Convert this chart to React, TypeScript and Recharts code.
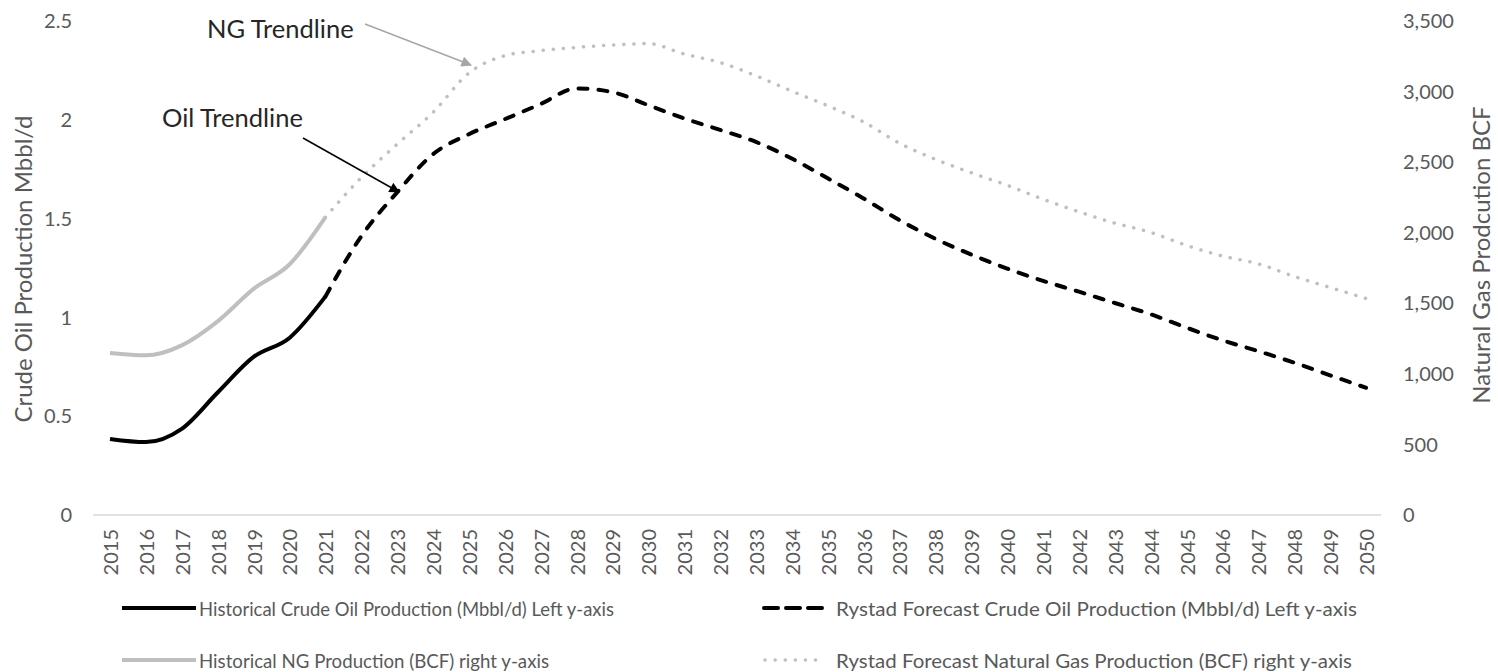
import { Legend, Line, LineChart, XAxis, YAxis } from 'recharts';

const years = [
  '2015', '2016', '2017', '2018', '2019', '2020', '2021', '2022', '2023', '2024', '2025', '2026',
  '2027', '2028', '2029', '2030', '2031', '2032', '2033', '2034', '2035', '2036', '2037', '2038',
  '2039', '2040', '2041', '2042', '2043', '2044', '2045', '2046', '2047', '2048', '2049', '2050',
];

// 2015–2021
const oilHistorical = [0.385, 0.369, 0.436, 0.62, 0.8, 0.896, 1.105];
// 2021–2050
const oilForecast = [
  1.105, 1.41, 1.633, 1.826, 1.927, 2.003, 2.08, 2.159, 2.14, 2.074, 2.007, 1.949, 1.888, 1.804, 1.704,
  1.602, 1.492, 1.398, 1.318, 1.247, 1.185, 1.13, 1.073, 1.016, 0.948, 0.884, 0.829, 0.771, 0.707, 0.644,
];
// 2015–2021
const ngHistorical = [1148, 1131, 1202, 1372, 1602, 1775, 2109];
// 2021–2050
const ngForecast = [
  2109, 2390, 2627, 2852, 3131, 3254, 3290, 3313, 3330, 3340, 3266, 3206, 3112, 3003, 2899, 2785, 2634,
  2520, 2425, 2336, 2237, 2148, 2068, 2002, 1910, 1835, 1779, 1690, 1612, 1534,
];

const leftTicks = [0, 0.5, 1, 1.5, 2, 2.5];
const rightTicks = [0, 500, 1000, 1500, 2000, 2500, 3000, 3500];

const FIRST_FORECAST = years.indexOf('2021');

const data = years.map((year, i) => ({
  year,
  oilHist: i <= FIRST_FORECAST ? oilHistorical[i] : null,
  oilFcst: i >= FIRST_FORECAST ? oilForecast[i - FIRST_FORECAST] : null,
  ngHist: i <= FIRST_FORECAST ? ngHistorical[i] : null,
  ngFcst: i >= FIRST_FORECAST ? ngForecast[i - FIRST_FORECAST] : null,
}));

const FONT = 'Lato, "Open Sans", sans-serif';
const GREY_TEXT = '#595959';
const NG_GREY = '#BFBFBF';

function YearTick({ x, y, payload }: any) {
  const ty = y + 14;
  return (
    <text
      x={x}
      y={ty}
      transform={`rotate(-90 ${x} ${ty})`}
      textAnchor="end"
      dominantBaseline="central"
      fill={GREY_TEXT}
      fontSize={20}
      fontFamily={FONT}
    >
      {payload.value}
    </text>
  );
}

// left column entries are squeezed in the original legend, so each label gets its own length
const legendItems = [
  { label: 'Historical Crude Oil Production (Mbbl/d) Left y-axis', col: 0, row: 0, stroke: '#000', dash: '', len: 415 },
  { label: 'Rystad Forecast Crude Oil Production (Mbbl/d) Left y-axis', col: 1, row: 0, stroke: '#000', dash: '14 8', len: 521 },
  { label: 'Historical NG Production (BCF) right y-axis', col: 0, row: 1, stroke: NG_GREY, dash: '', len: 350 },
  { label: 'Rystad Forecast Natural Gas Production (BCF) right y-axis', col: 1, row: 1, stroke: NG_GREY, dash: '0.1 10', len: 516 },
];

function LegendBox() {
  return (
    <svg width={1498} height={87} fontFamily={FONT} style={{ display: 'block' }}>
      {legendItems.map((item) => {
        const x0 = item.col === 0 ? 122 : 762;
        const x1 = item.col === 0 ? 196 : 822;
        const tx = item.col === 0 ? 199 : 836;
        const cy = item.row === 0 ? 23 : 75;
        const dotted = item.dash === '0.1 10';
        return (
          <g key={item.label}>
            <line
              x1={dotted ? x0 + 3 : item.dash ? x0 + 2 : x0}
              y1={cy}
              x2={dotted ? x1 + 2 : x1}
              y2={cy}
              stroke={item.stroke}
              strokeWidth={dotted ? 3.5 : 4}
              strokeDasharray={item.dash || undefined}
              strokeLinecap={item.dash ? 'round' : 'butt'}
            />
            <text
              x={tx}
              y={cy}
              dominantBaseline="central"
              fontSize={20}
              fill={GREY_TEXT}
              textLength={item.len}
              lengthAdjust="spacingAndGlyphs"
            >
              {item.label}
            </text>
          </g>
        );
      })}
    </svg>
  );
}

export default function App() {
  return (
    <div style={{ position: 'relative', width: 1498, height: 672, background: '#fff' }}>
      <style>{'body { margin: 0; }'}</style>
      <LineChart width={1498} height={672} data={data} margin={{ top: 21, right: 0, bottom: 0, left: 0 }}>
        <XAxis
          dataKey="year"
          interval={0}
          padding={{ left: 17, right: 15 }}
          height={70}
          tickSize={0}
          tickMargin={0}
          tickLine={false}
          axisLine={{ stroke: '#D9D9D9', strokeWidth: 1.5 }}
          tick={<YearTick />}
        />
        <YAxis
          yAxisId="left"
          orientation="left"
          width={93}
          domain={[0, 2.5]}
          ticks={leftTicks}
          axisLine={false}
          tickLine={false}
          tickSize={0}
          tickMargin={21}
          tick={{ fill: GREY_TEXT, fontSize: 20, fontFamily: FONT }}
        />
        <YAxis
          yAxisId="right"
          orientation="right"
          width={117}
          domain={[0, 3500]}
          ticks={rightTicks}
          axisLine={false}
          tickLine={false}
          tickSize={0}
          tickMargin={22}
          tickFormatter={(v: number) => v.toLocaleString('en-US')}
          tick={{ fill: GREY_TEXT, fontSize: 20, fontFamily: FONT }}
        />
        <Legend verticalAlign="bottom" align="left" height={87} content={() => <LegendBox />} />
        <Line
          yAxisId="right"
          type="monotone"
          dataKey="ngHist"
          stroke={NG_GREY}
          strokeWidth={4}
          dot={false}
          activeDot={false}
          isAnimationActive={false}
        />
        <Line
          yAxisId="right"
          type="monotone"
          dataKey="ngFcst"
          stroke={NG_GREY}
          strokeWidth={3.5}
          strokeDasharray="0.1 10"
          strokeLinecap="round"
          dot={false}
          activeDot={false}
          isAnimationActive={false}
        />
        <Line
          yAxisId="left"
          type="monotone"
          dataKey="oilHist"
          stroke="#000"
          strokeWidth={4}
          dot={false}
          activeDot={false}
          isAnimationActive={false}
        />
        <Line
          yAxisId="left"
          type="monotone"
          dataKey="oilFcst"
          stroke="#000"
          strokeWidth={4}
          strokeDasharray="9 11"
          strokeLinecap="round"
          dot={false}
          activeDot={false}
          isAnimationActive={false}
        />
      </LineChart>

      {/* axis titles and trendline call-outs */}
      <svg
        width={1498}
        height={672}
        style={{ position: 'absolute', left: 0, top: 0, pointerEvents: 'none' }}
        fontFamily={FONT}
      >
        <defs>
          <marker id="headGrey" viewBox="0 0 10 10" refX="9" refY="5" markerWidth="8" markerHeight="7" orient="auto">
            <path d="M0,0 L10,5 L0,10 z" fill="#A6A6A6" />
          </marker>
          <marker id="headBlack" viewBox="0 0 10 10" refX="9" refY="5" markerWidth="8" markerHeight="7" orient="auto">
            <path d="M0,0 L10,5 L0,10 z" fill="#000" />
          </marker>
        </defs>
        <text
          x={22}
          y={269}
          transform="rotate(-90 22 269)"
          textAnchor="middle"
          dominantBaseline="central"
          fontSize={24}
          fill={GREY_TEXT}
        >
          Crude Oil Production Mbbl/d
        </text>
        <text
          x={1480}
          y={255}
          transform="rotate(-90 1480 255)"
          textAnchor="middle"
          dominantBaseline="central"
          fontSize={24}
          fill={GREY_TEXT}
        >
          Natural Gas Prodcution BCF
        </text>

        <text x={207} y={28} dominantBaseline="central" fontSize={25.5} fill="#262626">
          NG Trendline
        </text>
        <line x1={365} y1={24} x2={471} y2={65} stroke="#A6A6A6" strokeWidth={1.5} markerEnd="url(#headGrey)" />

        <text x={162} y={117} dominantBaseline="central" fontSize={25.5} fill="#262626">
          Oil Trendline
        </text>
        <line x1={303} y1={138} x2={399} y2={192} stroke="#000" strokeWidth={1.5} markerEnd="url(#headBlack)" />
      </svg>
    </div>
  );
}
